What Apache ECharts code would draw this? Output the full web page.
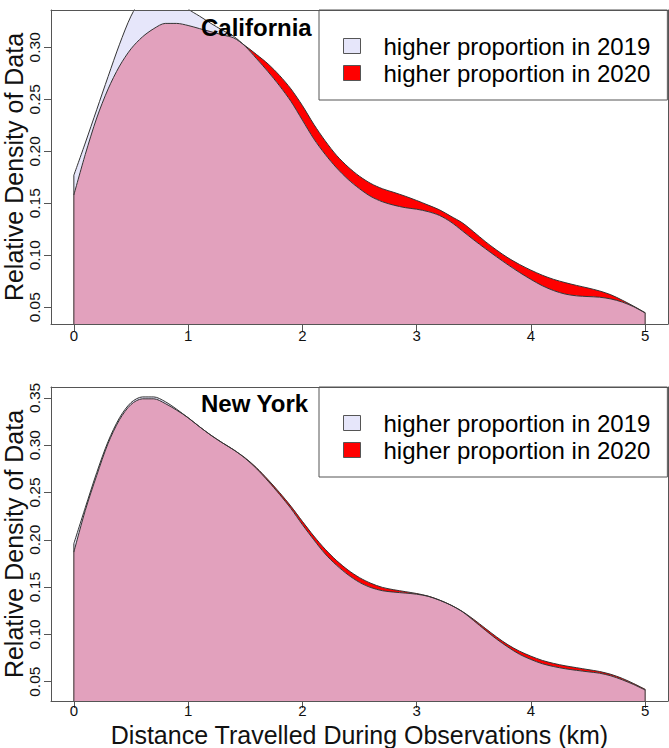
<!DOCTYPE html>
<html>
<head>
<meta charset="utf-8">
<script src="https://cdn.jsdelivr.net/npm/echarts@6/dist/echarts.min.js"></script>
<style>
  html, body { margin: 0; padding: 0; background: #fff; }
  #chart { width: 669px; height: 748px; }
</style>
</head>
<body>
<div id="chart"></div>
<script>
// distance grid (km)
var xs = [0, 0.1, 0.2, 0.3, 0.4, 0.5, 0.6, 0.7, 0.8, 0.9,
  1.0, 1.1, 1.2, 1.3, 1.4, 1.5, 1.6, 1.7, 1.8, 1.9,
  2.0, 2.1, 2.2, 2.3, 2.4, 2.5, 2.6, 2.7, 2.8, 2.9,
  3.0, 3.1, 3.2, 3.3, 3.4, 3.5, 3.6, 3.7, 3.8, 3.9,
  4.0, 4.1, 4.2, 4.3, 4.4, 4.5, 4.6, 4.7, 4.8, 4.9, 5.0];

// California densities
var ca2019 = [0.177, 0.208, 0.240, 0.272, 0.303, 0.330, 0.348, 0.357, 0.357, 0.349,
  0.337, 0.330, 0.323, 0.3165, 0.3105, 0.301, 0.289, 0.2765, 0.263, 0.248,
  0.230, 0.212, 0.197, 0.184, 0.173, 0.164, 0.1565, 0.1515, 0.1482, 0.1458,
  0.1443, 0.1420, 0.1383, 0.1320, 0.1235, 0.1148, 0.1065, 0.0985, 0.0908, 0.0835,
  0.0768, 0.0707, 0.0660, 0.0627, 0.0610, 0.0603, 0.0597, 0.0580, 0.0550, 0.0505, 0.0445];
var ca2020 = [0.158, 0.197, 0.232, 0.260, 0.282, 0.2985, 0.310, 0.318, 0.323, 0.323,
  0.321, 0.318, 0.315, 0.312, 0.309, 0.3015, 0.293, 0.284, 0.273, 0.260,
  0.244, 0.226, 0.210, 0.196, 0.185, 0.176, 0.169, 0.164, 0.1605, 0.1568,
  0.1527, 0.1483, 0.1437, 0.1375, 0.1312, 0.1225, 0.1133, 0.1050, 0.0975, 0.0912,
  0.0857, 0.0808, 0.0768, 0.0737, 0.0710, 0.0685, 0.0657, 0.0620, 0.0568, 0.0510, 0.0448];

// New York densities
var ny2019 = [0.196, 0.234, 0.271, 0.304, 0.329, 0.345, 0.351, 0.351, 0.346, 0.338,
  0.329, 0.3195, 0.3105, 0.3025, 0.2950, 0.2860, 0.2750, 0.2620, 0.2480, 0.2330,
  0.216, 0.200, 0.185, 0.173, 0.163, 0.155, 0.1495, 0.1462, 0.1447, 0.1437,
  0.1425, 0.1403, 0.1362, 0.1309, 0.1240, 0.1145, 0.1045, 0.0950, 0.0865, 0.0790,
  0.0735, 0.0690, 0.0660, 0.0637, 0.0620, 0.0605, 0.0590, 0.0562, 0.0520, 0.0470, 0.0412];
var ny2020 = [0.187, 0.231, 0.268, 0.302, 0.327, 0.343, 0.349, 0.349, 0.344, 0.337,
  0.329, 0.3195, 0.3105, 0.3025, 0.2950, 0.2865, 0.2760, 0.2635, 0.2500, 0.2355,
  0.2195, 0.2040, 0.1900, 0.1780, 0.1680, 0.1600, 0.1540, 0.1497, 0.1472, 0.1452,
  0.1432, 0.1405, 0.1363, 0.1310, 0.1243, 0.1158, 0.1065, 0.0973, 0.0890, 0.0823,
  0.0770, 0.0725, 0.0693, 0.0668, 0.0648, 0.0628, 0.0608, 0.0578, 0.0535, 0.0480, 0.0420];

var xTicks = [0, 1, 2, 3, 4, 5];
var caTicks = [0.05, 0.10, 0.15, 0.20, 0.25, 0.30];
var nyTicks = [0.05, 0.10, 0.15, 0.20, 0.25, 0.30, 0.35];

var name2019 = 'higher proportion in 2019';
var name2020 = 'higher proportion in 2020';
var col2019 = '#e6e6fa';
var col2020 = '#ff0000';
var colBoth = '#e2a1bd';
var edge = '#333';

function pts(arr) {
  return xs.map(function (x, i) { return [x, arr[i]]; });
}

function panelSeries(a, b, ax) {
  var both = a.map(function (v, i) { return Math.min(v, b[i]); });
  var last = xs.length - 1;
  var base = { type: 'line', xAxisIndex: ax, yAxisIndex: ax, symbol: 'none', smooth: 0.3, silent: true };
  return [
    Object.assign({}, base, {
      name: name2020, data: pts(b),
      itemStyle: { color: col2020 },
      lineStyle: { color: edge, width: 1 },
      areaStyle: { color: col2020, opacity: 1, origin: 'start' }
    }),
    Object.assign({}, base, {
      name: name2019, data: pts(a),
      itemStyle: { color: col2019 },
      lineStyle: { width: 0, opacity: 0 },
      areaStyle: { color: col2019, opacity: 1, origin: 'start' }
    }),
    Object.assign({}, base, {
      name: 'both', data: pts(both),
      lineStyle: { width: 0, opacity: 0 },
      areaStyle: { color: colBoth, opacity: 1, origin: 'start' }
    }),
    Object.assign({}, base, {
      name: 'outline', data: pts(a),
      lineStyle: { color: edge, width: 1 }
    }),
    Object.assign({}, base, {
      name: 'left edge', smooth: false,
      data: [[xs[0], 0], [xs[0], Math.max(a[0], b[0])]],
      lineStyle: { color: edge, width: 1 }
    }),
    Object.assign({}, base, {
      name: 'right edge', smooth: false,
      data: [[xs[last], 0], [xs[last], Math.max(a[last], b[last])]],
      lineStyle: { color: edge, width: 1 }
    })
  ];
}

function xBottom(g, title) {
  return {
    type: 'value', gridIndex: g, min: -0.2, max: 5.2, position: 'bottom', z: 10,
    axisLine: { show: true, onZero: false, lineStyle: { color: '#555', width: 1 } },
    axisTick: { show: true, length: 7, customValues: xTicks, lineStyle: { color: '#555' } },
    axisLabel: { customValues: xTicks, fontSize: 15, color: '#111', margin: g === 0 ? 4 : 2 },
    splitLine: { show: false },
    name: title, nameLocation: 'middle', nameGap: 21, nameMoveOverlap: false,
    nameTextStyle: { fontSize: 25, color: '#111' }
  };
}
function xTop(g) {
  return {
    type: 'value', gridIndex: g, min: -0.2, max: 5.2, position: 'top', z: 10,
    axisLine: { show: true, onZero: false, lineStyle: { color: '#555', width: 1 } },
    axisTick: { show: false }, axisLabel: { show: false }, splitLine: { show: false }
  };
}
function yLeft(g, min, max, ticks) {
  return {
    type: 'value', gridIndex: g, min: min, max: max, position: 'left', z: 10,
    axisLine: { show: true, onZero: false, lineStyle: { color: '#555', width: 1 } },
    axisTick: { show: true, length: 7, customValues: ticks, lineStyle: { color: '#555' } },
    axisLabel: {
      customValues: ticks, rotate: 90, margin: 9, fontSize: 15.5, color: '#111',
      formatter: function (v) { return v.toFixed(2); }
    },
    splitLine: { show: false },
    name: 'Relative Density of Data', nameLocation: 'middle', nameGap: 25, nameRotate: 90,
    nameMoveOverlap: false,
    nameTextStyle: { fontSize: 25, color: '#111' }
  };
}
function yRight(g, min, max) {
  return {
    type: 'value', gridIndex: g, min: min, max: max, position: 'right', z: 10,
    axisLine: { show: true, onZero: false, lineStyle: { color: '#555', width: 1 } },
    axisTick: { show: false }, axisLabel: { show: false }, splitLine: { show: false }
  };
}

var legendData = [
  { name: name2019, itemStyle: { color: col2019, borderColor: '#555', borderWidth: 1 } },
  { name: name2020, itemStyle: { color: col2020, borderColor: '#555', borderWidth: 1 } }
];
function legendAt(top) {
  return {
    left: 319, top: top, orient: 'vertical', icon: 'rect',
    itemWidth: 17, itemHeight: 15, itemGap: 3,
    padding: [24, 17, 15, 24],
    borderColor: '#555', borderWidth: 1, backgroundColor: '#fff',
    selectedMode: false,
    textStyle: { fontSize: 24, color: '#000', padding: [0, 0, 0, 18] },
    data: legendData
  };
}

var chart = echarts.init(document.getElementById('chart'), null, { renderer: 'svg' });
chart.setOption({
  animation: false,
  textStyle: { fontFamily: 'Liberation Sans, Arial, sans-serif' },
  title: [
    { text: 'California', left: 201, top: 15, padding: 0, z: 12,
      textStyle: { fontSize: 24, fontWeight: 'bold', color: '#000' } },
    { text: 'New York', left: 201, top: 391, padding: 0, z: 12,
      textStyle: { fontSize: 24, fontWeight: 'bold', color: '#000' } }
  ],
  legend: [legendAt(10), legendAt(387)],
  grid: [
    { left: 51, top: 10, width: 617, height: 314, outerBoundsMode: 'none' },
    { left: 51, top: 387, width: 617, height: 314, outerBoundsMode: 'none' }
  ],
  xAxis: [xBottom(0, ''), xTop(0), xBottom(1, 'Distance Travelled During Observations (km)'), xTop(1)],
  yAxis: [yLeft(0, 0.0339, 0.3359, caTicks), yRight(0, 0.0339, 0.3359),
          yLeft(1, 0.0296, 0.3615, nyTicks), yRight(1, 0.0296, 0.3615)],
  series: panelSeries(ca2019, ca2020, 0).concat(panelSeries(ny2019, ny2020, 2))
});
</script>
</body>
</html>
